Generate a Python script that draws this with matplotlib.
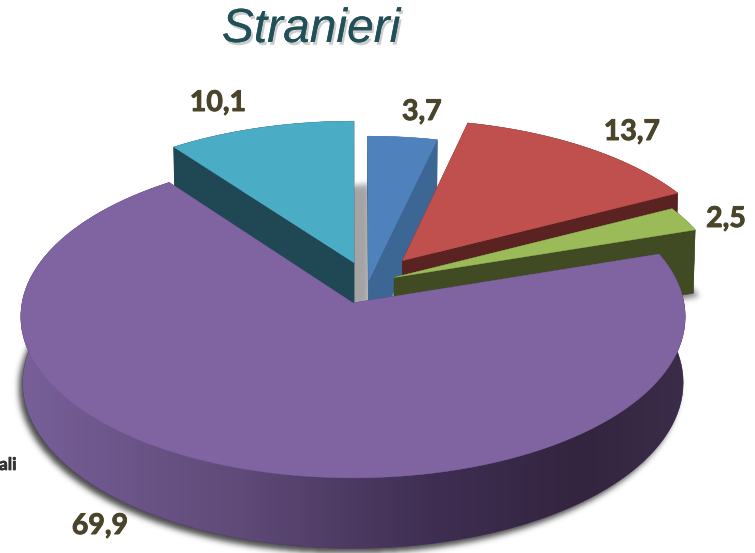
import numpy as np
import matplotlib
matplotlib.use('Agg')
import matplotlib.pyplot as plt
import matplotlib.patheffects as pe
from matplotlib.colors import LinearSegmentedColormap
from matplotlib.patches import Polygon
from matplotlib.path import Path

# values as printed on the chart, clockwise from 12 o'clock
values = [3.7, 13.7, 2.5, 69.9, 10.1]
value_labels = ['3,7', '13,7', '2,5', '69,9', '10,1']
top_colors = ['#4f81bd', '#c0504d', '#9bbb59', '#8064a2', '#4bacc6']
side_colors = ['#3c6795', '#5a2321', '#404a23', '#4a3a60', '#1f4754']
# how far each slice is pulled out of the pie (x, back)
explode = [(0.048, 0.144), (0.153, 0.271), (0.126, 0.162), (0, 0), (0.003, 0.258)]
draw_order = [4, 0, 1, 2, 3]
label_pos = [(422, 112), (632, 132), (726, 219), (100, 526), (218, 103)]
# shadow offset x, offset y, blur, strength for each slice
shadows = [(8, 3, 3.0, 0.4), (8, 3, 3.0, 0.4), (6, 3, 3.0, 0.5), (-4, 5, 3.0, 0.7), (16, 3, 3.0, 0.36)]

# projection of the tilted pie on to the picture
cx, cy = 353, 303
rx, ry = 331, 160
persp = 0.085
shrink = 0.006
depth = 66
W, H = 755, 553


def project(x, y, z=0):
    w = 1 + persp * y + shrink * z
    return cx + rx * x / w, cy - ry * y / w + z * depth / w


def faces(t0, t1, off):
    t = np.radians(np.linspace(t0, t1, 120))
    ax_, ay_ = off
    arc_x, arc_y = np.sin(t) + ax_, np.cos(t) + ay_
    top = np.column_stack(project(arc_x, arc_y))
    bot = np.column_stack(project(arc_x, arc_y, 1))
    apex_top = np.array(project(ax_, ay_))
    apex_bot = np.array(project(ax_, ay_, 1))
    return top, bot, apex_top, apex_bot


def soft_shadow(ax, pts, dx, dy, sigma, strength):
    # blurred copy of the slice's footprint
    xx, yy = np.meshgrid(np.arange(W) + 0.5, np.arange(H) + 0.5)
    grid = np.column_stack([xx.ravel(), yy.ravel()])
    mask = Path(pts + np.array([dx, dy])).contains_points(grid).reshape(H, W).astype(float)
    k = np.exp(-0.5 * (np.arange(-12, 13) / sigma) ** 2)
    k = k / k.sum()
    mask = np.apply_along_axis(np.convolve, 0, mask, k, mode='same')
    mask = np.apply_along_axis(np.convolve, 1, mask, k, mode='same')
    rgba = np.zeros((H, W, 4))
    rgba[..., 3] = mask * strength
    ax.imshow(rgba, extent=(0, W, H, 0), aspect='auto', zorder=1, interpolation='nearest')


fig = plt.figure(figsize=(7.55, 5.53), dpi=100)
ax = fig.add_axes([0, 0, 1, 1])

angles = np.concatenate([[0], np.cumsum(values) / np.sum(values) * 360])

z = 2
for i in draw_order:
    top, bot, apex_top, apex_bot = faces(angles[i], angles[i + 1], explode[i])
    soft_shadow(ax, np.vstack([apex_bot, bot]), *shadows[i])

    # cut faces and rim, all in the dark colour
    for a in [0, -1]:
        cut = np.array([apex_top, top[a], bot[a], apex_bot])
        ax.add_patch(Polygon(cut, closed=True, fc=side_colors[i], ec=side_colors[i], lw=0.3, zorder=z))
    rim = np.vstack([top, bot[::-1]])
    rim_patch = Polygon(rim, closed=True, fc=side_colors[i], ec=side_colors[i], lw=0.3, zorder=z)
    ax.add_patch(rim_patch)
    if i == 3:
        # the big slice has a shaded rim
        rim_cmap = LinearSegmentedColormap.from_list('rim', [(0, '#775f98'), (0.33, '#5f4a78'),
                                                             (0.62, '#3f2e52'), (0.85, '#33243f'),
                                                             (1, '#3b2c49')])
        im = ax.imshow(np.linspace(0, 1, 400).reshape(1, -1), cmap=rim_cmap, extent=(20, 686, 553, 0),
                       aspect='auto', zorder=z + 0.5)
        im.set_clip_path(rim_patch)
    z += 1
    ax.add_patch(Polygon(np.vstack([apex_top, top]), closed=True, fc=top_colors[i], ec=top_colors[i],
                         lw=0.3, zorder=z))
    z += 1

ax.set_xlim(0, W)
ax.set_ylim(H, 0)
ax.axis('off')

bold = [pe.withStroke(linewidth=0.7, foreground='#4a452a')]
for lab, pos in zip(value_labels, label_pos):
    ax.text(pos[0], pos[1], lab, family='Lato', weight='bold', fontsize=20.5, color='#4a452a',
            ha='center', va='center', zorder=50, path_effects=bold)
ax.text(-1, 465, 'ali', family='Lato', weight='bold', fontsize=12.5, color='#333333',
        ha='left', va='center', zorder=50,
        path_effects=[pe.withStroke(linewidth=0.5, foreground='#333333')])

# title with its soft shadow
title_shadow = [pe.withSimplePatchShadow(offset=(1.5, -2), shadow_rgbFace='#000000', alpha=0.2), pe.Normal()]
ax.text(311, 42, 'Stranieri', family='Liberation Sans', style='italic', fontsize=34.5,
        color='#215059', ha='center', va='baseline', zorder=51, path_effects=title_shadow)

fig.savefig('out.png', dpi=100)
